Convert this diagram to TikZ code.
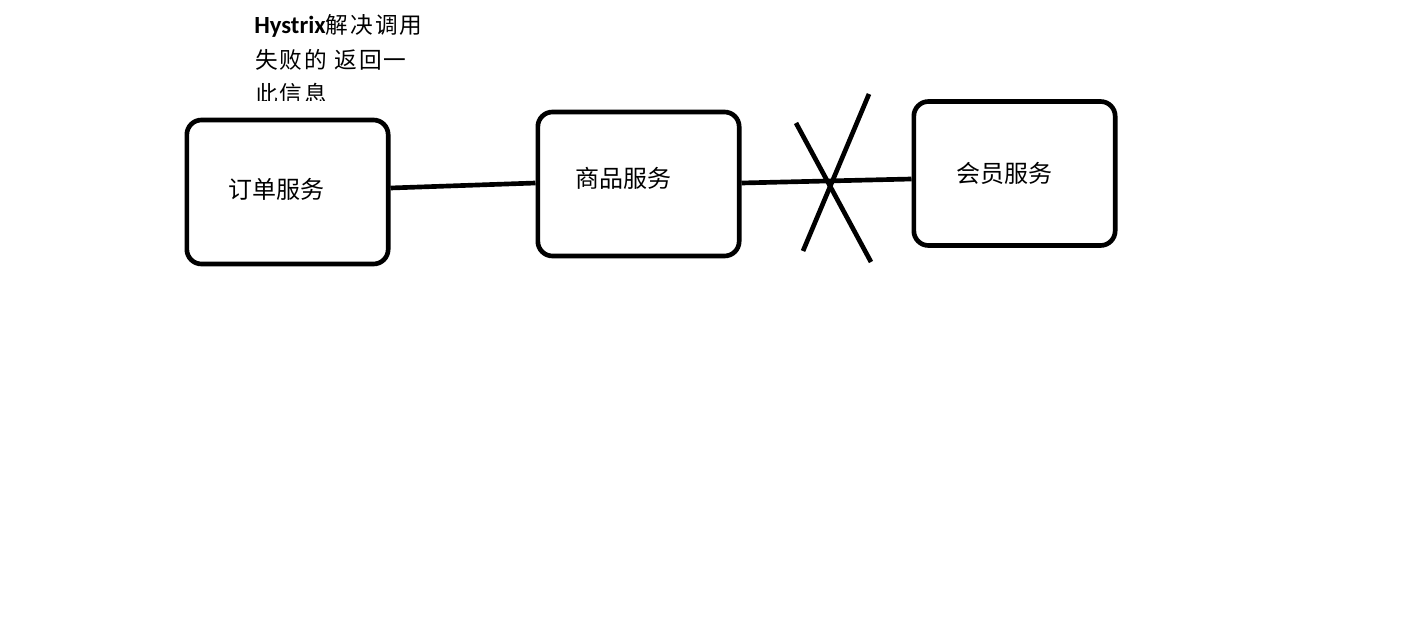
\documentclass[tikz,border=0pt]{standalone}
\usepackage{fontspec}
\newfontfamily\cjk{Noto Sans CJK SC}
\newfontfamily\cjkn[LetterSpace=9]{Noto Sans CJK SC}
\newfontfamily\latinb{Carlito}
\usetikzlibrary{calc}
\begin{document}
\begin{tikzpicture}[x=0.75pt,y=-0.75pt,
  svc/.style={draw,line width=3.5pt,rounded corners=11pt,minimum width=151pt,minimum height=108pt,inner sep=0pt},
  lbl/.style={font=\cjk\fontsize{18pt}{20pt}\selectfont,inner sep=0pt},
  note/.style={font=\cjkn\fontsize{17pt}{20pt}\selectfont,inner sep=0pt,anchor=west},
  wire/.style={line width=3.5pt}]
\fill[white] (0,0) rectangle (1427,631);
\useasboundingbox (0,0) rectangle (1427,631);
\node[note] (t1) at (254,26) {{\latinb\bfseries\fontsize{18.5pt}{20pt}\selectfont Hystrix}解决调用};
\node[note] (t2) at (255,60) {失败的 返回一};
\begin{scope}
\clip (200,0) rectangle (500,101);
\node[note] (t3) at (255,94) {此信息};
\end{scope}
\node[svc] (b1) at (287.5,192) {};
\node[svc] (b2) at (638.5,184) {};
\node[svc] (b3) at (1014.5,173.5) {};
\node[lbl] (l1) at (276,189) {订单服务};
\node[lbl] (l2) at (623,178) {商品服务};
\node[lbl] (l3) at (1004,173) {会员服务};
\draw[wire] ($(b1.east)+(0,-4)$) -- ($(b2.west)+(0,-1)$);
\draw[wire] ($(b2.east)+(0,-1)$) -- ($(b3.west)+(0,5.5)$);
\coordinate (xa1) at (796,123);
\coordinate (xa2) at (871,262);
\coordinate (xb1) at (869,94);
\coordinate (xb2) at (803,251);
\draw[wire] (xa1) -- (xa2);
\draw[wire] (xb1) -- (xb2);
\end{tikzpicture}
\end{document}
